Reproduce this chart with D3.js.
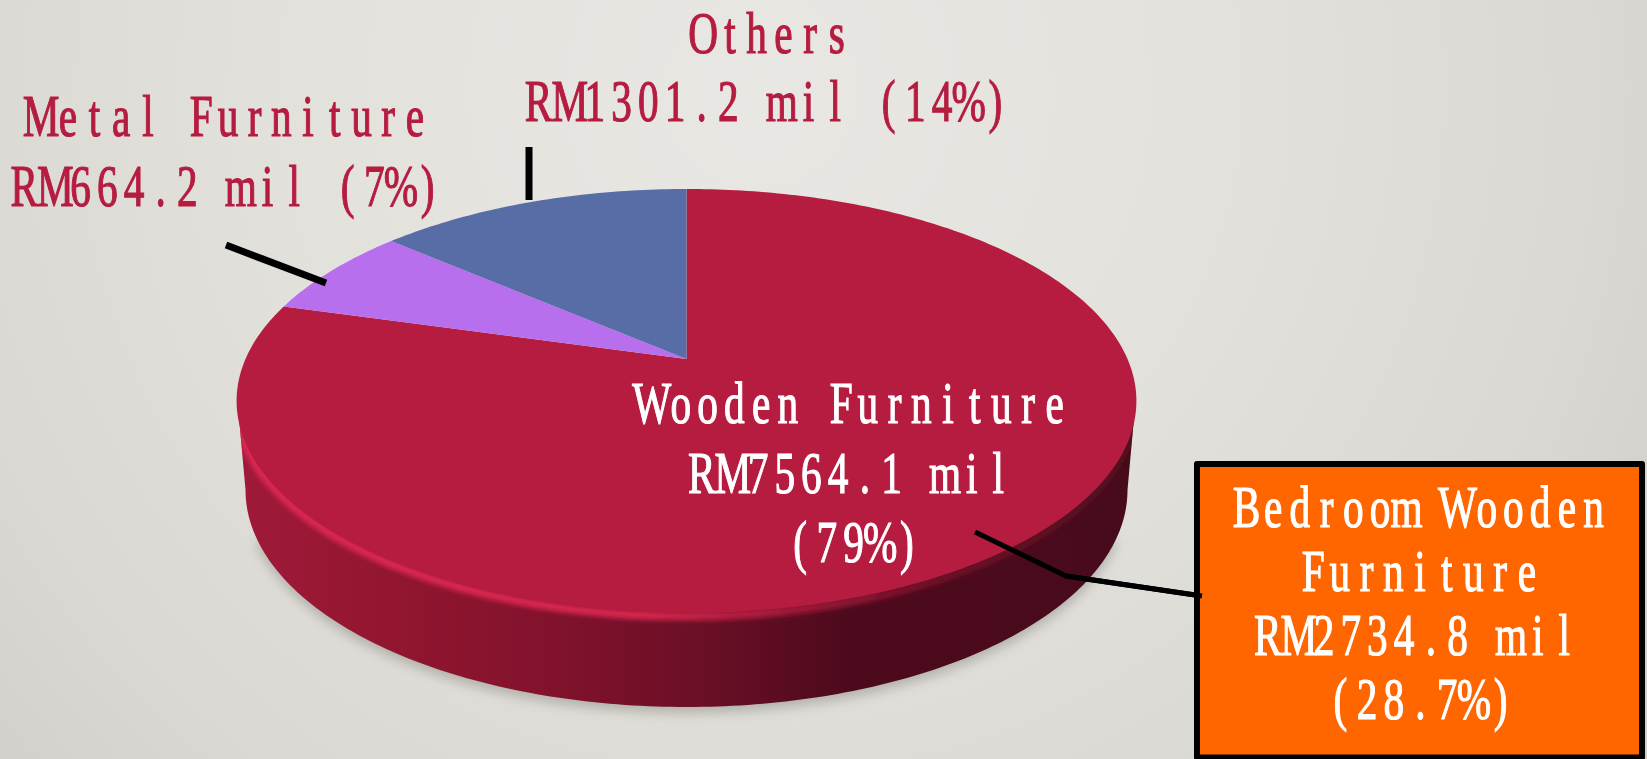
<!DOCTYPE html>
<html><head><meta charset="utf-8">
<script src="https://cdn.jsdelivr.net/npm/d3@7/dist/d3.min.js"></script>
<style>html,body{margin:0;padding:0;background:#e2e0db;overflow:hidden}svg{display:block}</style>
</head><body><svg id="c" width="1647" height="759"></svg>
<script>
const categories = ["Wooden Furniture", "Metal Furniture", "Others"];
const values = [7564.1, 664.2, 1301.2];
const colors = ["#b51c40", "#b76fee", "#586da5"];

const labelLines = [
  {t:"Others",             cx:770,    y:53,  c:"#b51c40"},
  {t:"RM1301.2 mil (14%)", cx:768.5,  y:121, c:"#b51c40"},
  {t:"Metal Furniture",    cx:228,    y:136, c:"#b51c40"},
  {t:"RM664.2 mil (7%)",   cx:227.5,  y:206, c:"#b51c40"},
  {t:"Wooden Furniture",   cx:854.5,  y:423, c:"#fff"},
  {t:"RM7564.1 mil",       cx:851.5,  y:493, c:"#fff"},
  {t:"(79%)",              cx:853.5,  y:562, c:"#fff"}
];
const boxLines = [
  {t:"Bedroom Wooden", cx:1420,   y:527, c:"#fff"},
  {t:"Furniture",      cx:1420,   y:591, c:"#fff"},
  {t:"RM2734.8 mil",   cx:1417.5, y:655, c:"#fff"},
  {t:"(28.7%)",        cx:1420.5, y:719, c:"#fff"}
];
const leaders = [
  {w:7, p:[[529,147],[529,200]]},
  {w:7, p:[[226,245],[326,283]]},
  {w:5, p:[[975,532],[1066,576],[1202,596]]}
];

const svg = d3.select("#c");
const defs = svg.append("defs");

// background
const bg = defs.append("radialGradient").attr("id","bg").attr("gradientUnits","userSpaceOnUse")
  .attr("cx",760).attr("cy",90).attr("r",1050);
[[0,"#e9e7e3"],[0.45,"#e3e1dc"],[0.8,"#dad8d2"],[1,"#d1cfc9"]].forEach(s=>bg.append("stop").attr("offset",s[0]).attr("stop-color",s[1]));
svg.append("rect").attr("width",1647).attr("height",759).attr("fill","url(#bg)");

// perspective projection of a unit disc onto the slide
const P = {cx:686.5, cy:359, R:441, S:203.7, k:-0.198};
const project = (a, r=1) => {
  const u = Math.sin(a)*r, v = -Math.cos(a)*r, d = 1 + P.k*v;
  return [P.cx + P.R*u/d, P.cy + P.S*v/d];
};
const line = d3.line();
const bottom = {cx:686.5, cy:490, rx:441, ry:217};
const topE = {cx:686.5, cy:401, rx:450, ry:212};
const ell = (E,a) => [E.cx + E.rx*Math.cos(a), E.cy + E.ry*Math.sin(a)];
const steps = d3.range(0,181);

const wallPts = [[topE.cx+topE.rx-1, topE.cy]]
  .concat(steps.map(i => ell(bottom, i/180*Math.PI)))
  .concat([[topE.cx-topE.rx+1, topE.cy]]);

const blur = (id,sd) => defs.append("filter").attr("id",id)
  .attr("x","-10%").attr("y","-10%").attr("width","120%").attr("height","120%")
  .append("feGaussianBlur").attr("stdDeviation",sd);
blur("sh",6); blur("b2",2.6);
defs.append("clipPath").attr("id","wc").append("path").attr("d",line(wallPts)+"Z");

// shadow (only below the lower half of the wall)
svg.append("path").attr("d",line(steps.slice(12,169).map(i => ell(bottom, i/180*Math.PI)))+"Z").attr("transform","translate(0,6)")
  .attr("fill","#8f8c85").attr("opacity",0.55).attr("filter","url(#sh)");

// wall
const wg = defs.append("linearGradient").attr("id","wall").attr("gradientUnits","userSpaceOnUse")
  .attr("x1",236).attr("x2",1137).attr("y1",0).attr("y2",0);
[[0,"#a01a3a"],[0.16,"#93162f"],[0.35,"#82122c"],[0.52,"#6a0f26"],[0.68,"#4d0a1d"],[1,"#470b1c"]]
  .forEach(s=>wg.append("stop").attr("offset",s[0]).attr("stop-color",s[1]));
svg.append("path").attr("d",line(wallPts)+"Z").attr("fill","url(#wall)");

// bevel under the top face
const bevelPts = d3.range(2,179).map(i => ell({cx:topE.cx,cy:topE.cy+3,rx:topE.rx-1,ry:topE.ry}, i/180*Math.PI));
const hg = defs.append("linearGradient").attr("id","hl").attr("gradientUnits","userSpaceOnUse")
  .attr("x1",236).attr("x2",1137).attr("y1",0).attr("y2",0);
[[0,"#dc2552",1],[0.45,"#d8264f",1],[0.62,"#b51c40",0.8],[0.8,"#7a1029",0.7],[1,"#5a0d20",0.6]]
  .forEach(s=>hg.append("stop").attr("offset",s[0]).attr("stop-color",s[1]).attr("stop-opacity",s[2]));
svg.append("g").attr("clip-path","url(#wc)").append("path").attr("d",line(bevelPts)).attr("fill","none").attr("stroke","url(#hl)")
  .attr("stroke-width",9).attr("filter","url(#b2)");

// top face: slices clockwise from twelve o'clock
const pie = d3.pie().sort(null)(values);
svg.append("g").selectAll("path").data(pie).join("path")
  .attr("d", d => {
    const n = Math.max(2, Math.ceil((d.endAngle-d.startAngle)*60));
    const pts = d3.range(n+1).map(i => project(d.startAngle + (d.endAngle-d.startAngle)*i/n));
    return line([[P.cx,P.cy],...pts]) + "Z";
  })
  .attr("fill",(d,i)=>colors[i]);

// leaders
svg.append("g").selectAll("path").data(leaders).join("path")
  .attr("d",d=>line(d.p)).attr("fill","none").attr("stroke","#000")
  .attr("stroke-width",d=>d.w).attr("stroke-linejoin","miter");

// callout box
svg.append("rect").attr("x",1197).attr("y",464).attr("width",445).attr("height",293.5)
  .attr("fill","#ff6600").attr("stroke","#000").attr("stroke-width",6).attr("stroke-linejoin","round");
svg.append("path").attr("d",line(leaders[2].p.slice(1))).attr("fill","none").attr("stroke","#000").attr("stroke-width",5);

// text: condensed serif glyphs centred in fixed-width cells
const FONT_SIZE = 59, CELL = 26.7, SX = 0.7;
const ctx = document.createElement("canvas").getContext("2d");
ctx.font = FONT_SIZE + "px 'Liberation Serif'";
const nudge = (t,i) => {
  if (t[i]==="R" && t[i+1]==="M") return -3;
  if (t[i]==="M" && t[i-1]==="R") return 1.5;
  if (t[i]==="W") return -2.5;
  return 0;
};
const cellXs = t => Array.from(t).map((ch,i) => {
  const adv = ctx.measureText(ch).width;
  return ((i + 0.5)*CELL + nudge(t,i))/SX - adv/2;
});
svg.append("g").selectAll("text").data(labelLines.concat(boxLines)).join("text")
  .attr("transform",d=>`translate(${d.cx - d.t.length*CELL/2},${d.y}) scale(${SX},1)`)
  .attr("x",d=>cellXs(d.t).map(v=>v.toFixed(2)).join(" ")).attr("y",0)
  .attr("font-family","'Liberation Serif',serif").attr("font-size",FONT_SIZE)
  .attr("fill",d=>d.c).attr("stroke",d=>d.c).attr("stroke-width",1.2)
  .style("white-space","pre").text(d=>d.t);
</script></body></html>
